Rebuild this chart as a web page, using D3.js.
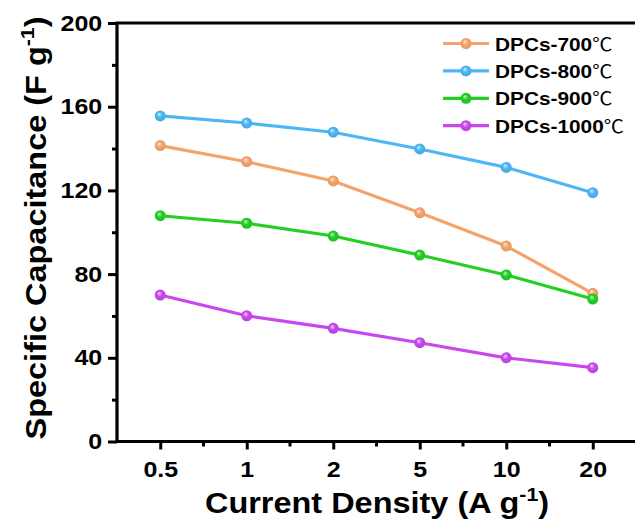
<!DOCTYPE html>
<html>
<head>
<meta charset="utf-8">
<script src="https://cdn.jsdelivr.net/npm/d3@7"></script>
<style>
  html, body { margin: 0; padding: 0; background: #fff; }
  svg { display: block; font-family: "Liberation Sans", Arial, sans-serif; }
</style>
</head>
<body>
<svg id="chart" width="635" height="526"></svg>
<script>
// Current density categories (A g-1)
const densities = ["0.5", "1", "2", "5", "10", "20"];

// Specific capacitance (F g-1) for each carbonisation temperature
const dpc700  = [141.4, 133.7, 124.5, 109.3, 93.4, 70.8];
const dpc800  = [155.6, 152.2, 147.8, 139.8, 131.0, 118.9];
const dpc900  = [107.9, 104.3, 98.2, 89.1, 79.6, 68.1];
const dpc1000 = [70.0, 60.1, 54.1, 47.2, 40.0, 35.3];

const seriesNames = ["DPCs-700", "DPCs-800", "DPCs-900", "DPCs-1000"];
const seriesValues = [dpc700, dpc800, dpc900, dpc1000];
const seriesColors = ["#F5A36C", "#4DB6F5", "#22CF22", "#C848EE"];

const yTicks = [0, 40, 80, 120, 160, 200];
const yMinorTicks = [20, 60, 100, 140, 180];

const svg = d3.select("#chart");
const plotL = 117, plotR = 636, plotT = 23, plotB = 441.5;
const WIDE = 1.12; // horizontal stretch applied to all lettering

const x = d3.scalePoint().domain(densities).range([plotL, plotR]).padding(0.5);
const y = d3.scaleLinear().domain([0, 200]).range([plotB, plotT]);

// Sphere-like marker gradients
const defs = svg.append("defs");
seriesColors.forEach((c, i) => {
  const g = defs.append("radialGradient")
    .attr("id", "ball" + i)
    .attr("cx", "50%").attr("cy", "50%").attr("r", "55%")
    .attr("fx", "38%").attr("fy", "32%");
  g.append("stop").attr("offset", "0%").attr("stop-color", d3.interpolateRgb(c, "#ffffff")(0.75));
  g.append("stop").attr("offset", "45%").attr("stop-color", c);
  g.append("stop").attr("offset", "100%").attr("stop-color", d3.color(c).darker(0.25));
});

// Series lines and markers
const line = d3.line().x((d, i) => x(densities[i])).y(d => y(d));
seriesValues.forEach((vals, i) => {
  svg.append("path")
    .attr("d", line(vals))
    .attr("fill", "none")
    .attr("stroke", seriesColors[i])
    .attr("stroke-width", 3.2)
    .attr("stroke-linejoin", "round");
});
seriesValues.forEach((vals, i) => {
  svg.selectAll(null).data(vals).enter().append("circle")
    .attr("cx", (d, j) => x(densities[j]))
    .attr("cy", d => y(d))
    .attr("r", 5.5)
    .attr("fill", `url(#ball${i})`);
});

// Axes
const yAxis = svg.append("g").attr("transform", `translate(${plotL},0)`)
  .call(d3.axisLeft(y).tickValues(yTicks).tickSize(9).tickPadding(4.2));
svg.append("g").attr("transform", `translate(${plotL},0)`)
  .call(d3.axisLeft(y).tickValues(yMinorTicks).tickSize(5).tickFormat(""));

const xAxis = svg.append("g").attr("transform", `translate(0,${plotB})`)
  .call(d3.axisBottom(x).tickSize(8).tickPadding(12));
const step = x.step();
const xMinor = densities.slice(1).map(d => x(d) - step / 2);
svg.append("g").attr("transform", `translate(0,${plotB})`)
  .selectAll("line").data(xMinor).enter().append("line")
  .attr("x1", d => d).attr("x2", d => d).attr("y1", 0).attr("y2", 5)
  .attr("stroke", "#000").attr("stroke-width", 3);

[yAxis, xAxis].forEach(a => {
  a.selectAll("text").attr("font-size", 22.3).attr("font-weight", "bold").attr("fill", "#000")
    .attr("font-family", "'Liberation Sans', Arial, sans-serif")
    .attr("transform", `scale(${WIDE},1)`);
});
svg.selectAll(".domain").remove();
svg.selectAll(".tick line").attr("stroke", "#000").attr("stroke-width", 3);

// Frame: top, left and bottom lines
svg.append("path")
  .attr("d", `M${plotR + 2},${plotT}H${plotL}V${plotB}H${plotR + 2}`)
  .attr("fill", "none").attr("stroke", "#000").attr("stroke-width", 3.2)
  .attr("stroke-linecap", "square");

// Axis titles
const yt = svg.append("text")
  .attr("transform", `translate(46,228) rotate(-90) scale(${WIDE},1)`)
  .attr("text-anchor", "middle")
  .attr("font-size", 29).attr("font-weight", "bold").attr("fill", "#000");
yt.append("tspan").text("Specific Capacitance (F g");
yt.append("tspan").attr("font-size", 19).attr("dy", -12).text("-1");
yt.append("tspan").attr("dy", 12).text(")");

const xt = svg.append("text")
  .attr("transform", `translate(377,513) scale(${WIDE},1)`)
  .attr("text-anchor", "middle")
  .attr("font-size", 29).attr("font-weight", "bold").attr("fill", "#000");
xt.append("tspan").text("Current Density (A g");
xt.append("tspan").attr("font-size", 19).attr("dy", -12).text("-1");
xt.append("tspan").attr("dy", 12).text(")");

// Legend
const legendX = 443, legendY = 43.5, legendGap = 27.4;
seriesNames.forEach((name, i) => {
  const gy = legendY + i * legendGap;
  const g = svg.append("g");
  g.append("line")
    .attr("x1", legendX).attr("x2", legendX + 46).attr("y1", gy).attr("y2", gy)
    .attr("stroke", seriesColors[i]).attr("stroke-width", 3.2);
  g.append("circle").attr("cx", legendX + 23).attr("cy", gy).attr("r", 5.5)
    .attr("fill", `url(#ball${i})`);
  const t = g.append("text")
    .attr("transform", `translate(${legendX + 52},${gy + 7}) scale(${WIDE},1)`)
    .attr("font-size", 18.6).attr("fill", "#000");
  t.append("tspan").attr("font-weight", "bold").text(name);
  t.append("tspan").attr("font-weight", "normal").attr("font-family", "'Noto Sans CJK SC', sans-serif")
    .attr("font-size", 18).text("℃");
});
</script>
</body>
</html>
